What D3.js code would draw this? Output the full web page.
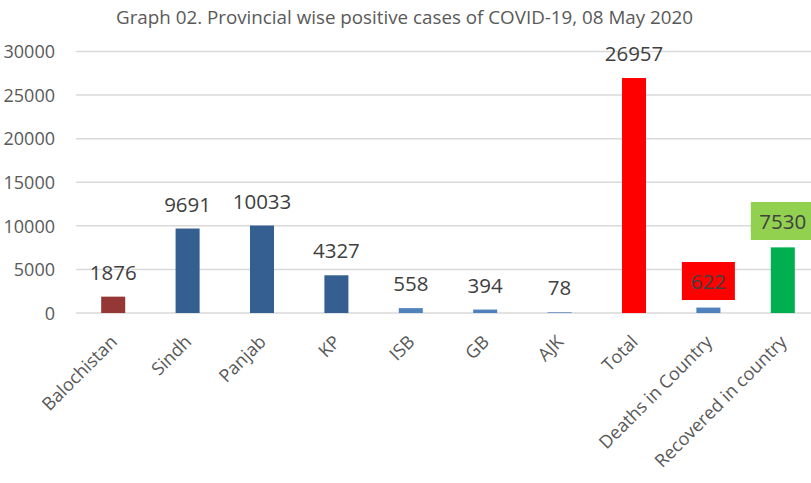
<!DOCTYPE html>
<html><head><meta charset="utf-8">
<script src="https://cdn.jsdelivr.net/npm/d3@7"></script>
<style>
body{margin:0;background:#fff;}
svg{display:block;font-family:"Open Sans",sans-serif;}
</style></head>
<body>
<svg id="chart" width="811" height="483"></svg>
<script>
const title = "Graph 02. Provincial wise positive cases of COVID-19, 08 May  2020";
const categories = ["Balochistan","Sindh","Panjab","KP","ISB","GB","AJK","Total","Deaths in Country","Recovered in country"];
const values = [1876, 9691, 10033, 4327, 558, 394, 78, 26957, 622, 7530];
const barColors = ["#953735","#365F91","#365F91","#365F91","#4F81BD","#4F81BD","#4F81BD","#FF0000","#4F81BD","#00B050"];
const labelBoxes = [null,null,null,null,null,null,null,null,"#FF0000","#92D050"];
const yTicks = [0,5000,10000,15000,20000,25000,30000];

const svg = d3.select("#chart");
const W = 811, H = 483;
const plot = {left:76, right:820, top:51.5, bottom:313};

const x = d3.scaleBand().domain(categories).range([plot.left, plot.right]).padding(0);
const y = d3.scaleLinear().domain([0,30000]).range([plot.bottom, plot.top]);
const barW = x.bandwidth()*0.323;

svg.append("text").attr("x", 404.5).attr("y", 24).attr("text-anchor","middle")
  .attr("font-size", 17.5).attr("fill","#595959")
  .attr("textLength", 577).attr("lengthAdjust","spacingAndGlyphs").text(title);

// gridlines
svg.append("g").selectAll("line").data(yTicks).join("line")
  .attr("x1", plot.left).attr("x2", W)
  .attr("y1", d=>y(d)).attr("y2", d=>y(d))
  .attr("stroke","#d9d9d9").attr("stroke-width",1.5);

// y axis labels
const yAxis = d3.axisLeft(y).tickValues(yTicks).tickSize(0).tickPadding(0).tickFormat(d3.format("d"));
const ya = svg.append("g").attr("transform","translate(55,0)").call(yAxis);
ya.select(".domain").remove();
ya.selectAll("text").attr("font-size",18).attr("fill","#595959").attr("font-family","Open Sans").attr("dy","0.35em");

// bars
const data = categories.map((c,i)=>({c, v:values[i], color:barColors[i], box:labelBoxes[i]}));
svg.append("g").selectAll("rect").data(data).join("rect")
  .attr("x", d=>x(d.c)+x.bandwidth()/2-barW/2)
  .attr("width", barW)
  .attr("y", d=>y(d.v))
  .attr("height", d=>y(0)-y(d.v))
  .attr("fill", d=>d.color);

// value labels
const lg = svg.append("g");
data.forEach(d=>{
  const cx = x(d.c)+x.bandwidth()/2;
  let by = y(d.v)-17;
  if (d.box) {
    const isDeaths = d.c==="Deaths in Country";
    by = isDeaths ? 289 : 229;
    const bw = isDeaths ? 53 : 64;
    lg.append("rect").attr("x", cx - bw/2).attr("width", bw)
      .attr("y", by-27).attr("height",38).attr("fill", d.box);
  }
  lg.append("text").attr("x", cx).attr("y", by).attr("text-anchor","middle")
    .attr("font-size",20.5).attr("fill","#404040").text(d.v);
});

// category labels
svg.append("g").selectAll("text").data(categories).join("text")
  .attr("transform", d=>`translate(${x(d)+x.bandwidth()/2+5},${plot.bottom+30}) rotate(-45)`)
  .attr("text-anchor","end").attr("font-size",18).attr("fill","#595959").text(d=>d);
</script>
</body></html>
